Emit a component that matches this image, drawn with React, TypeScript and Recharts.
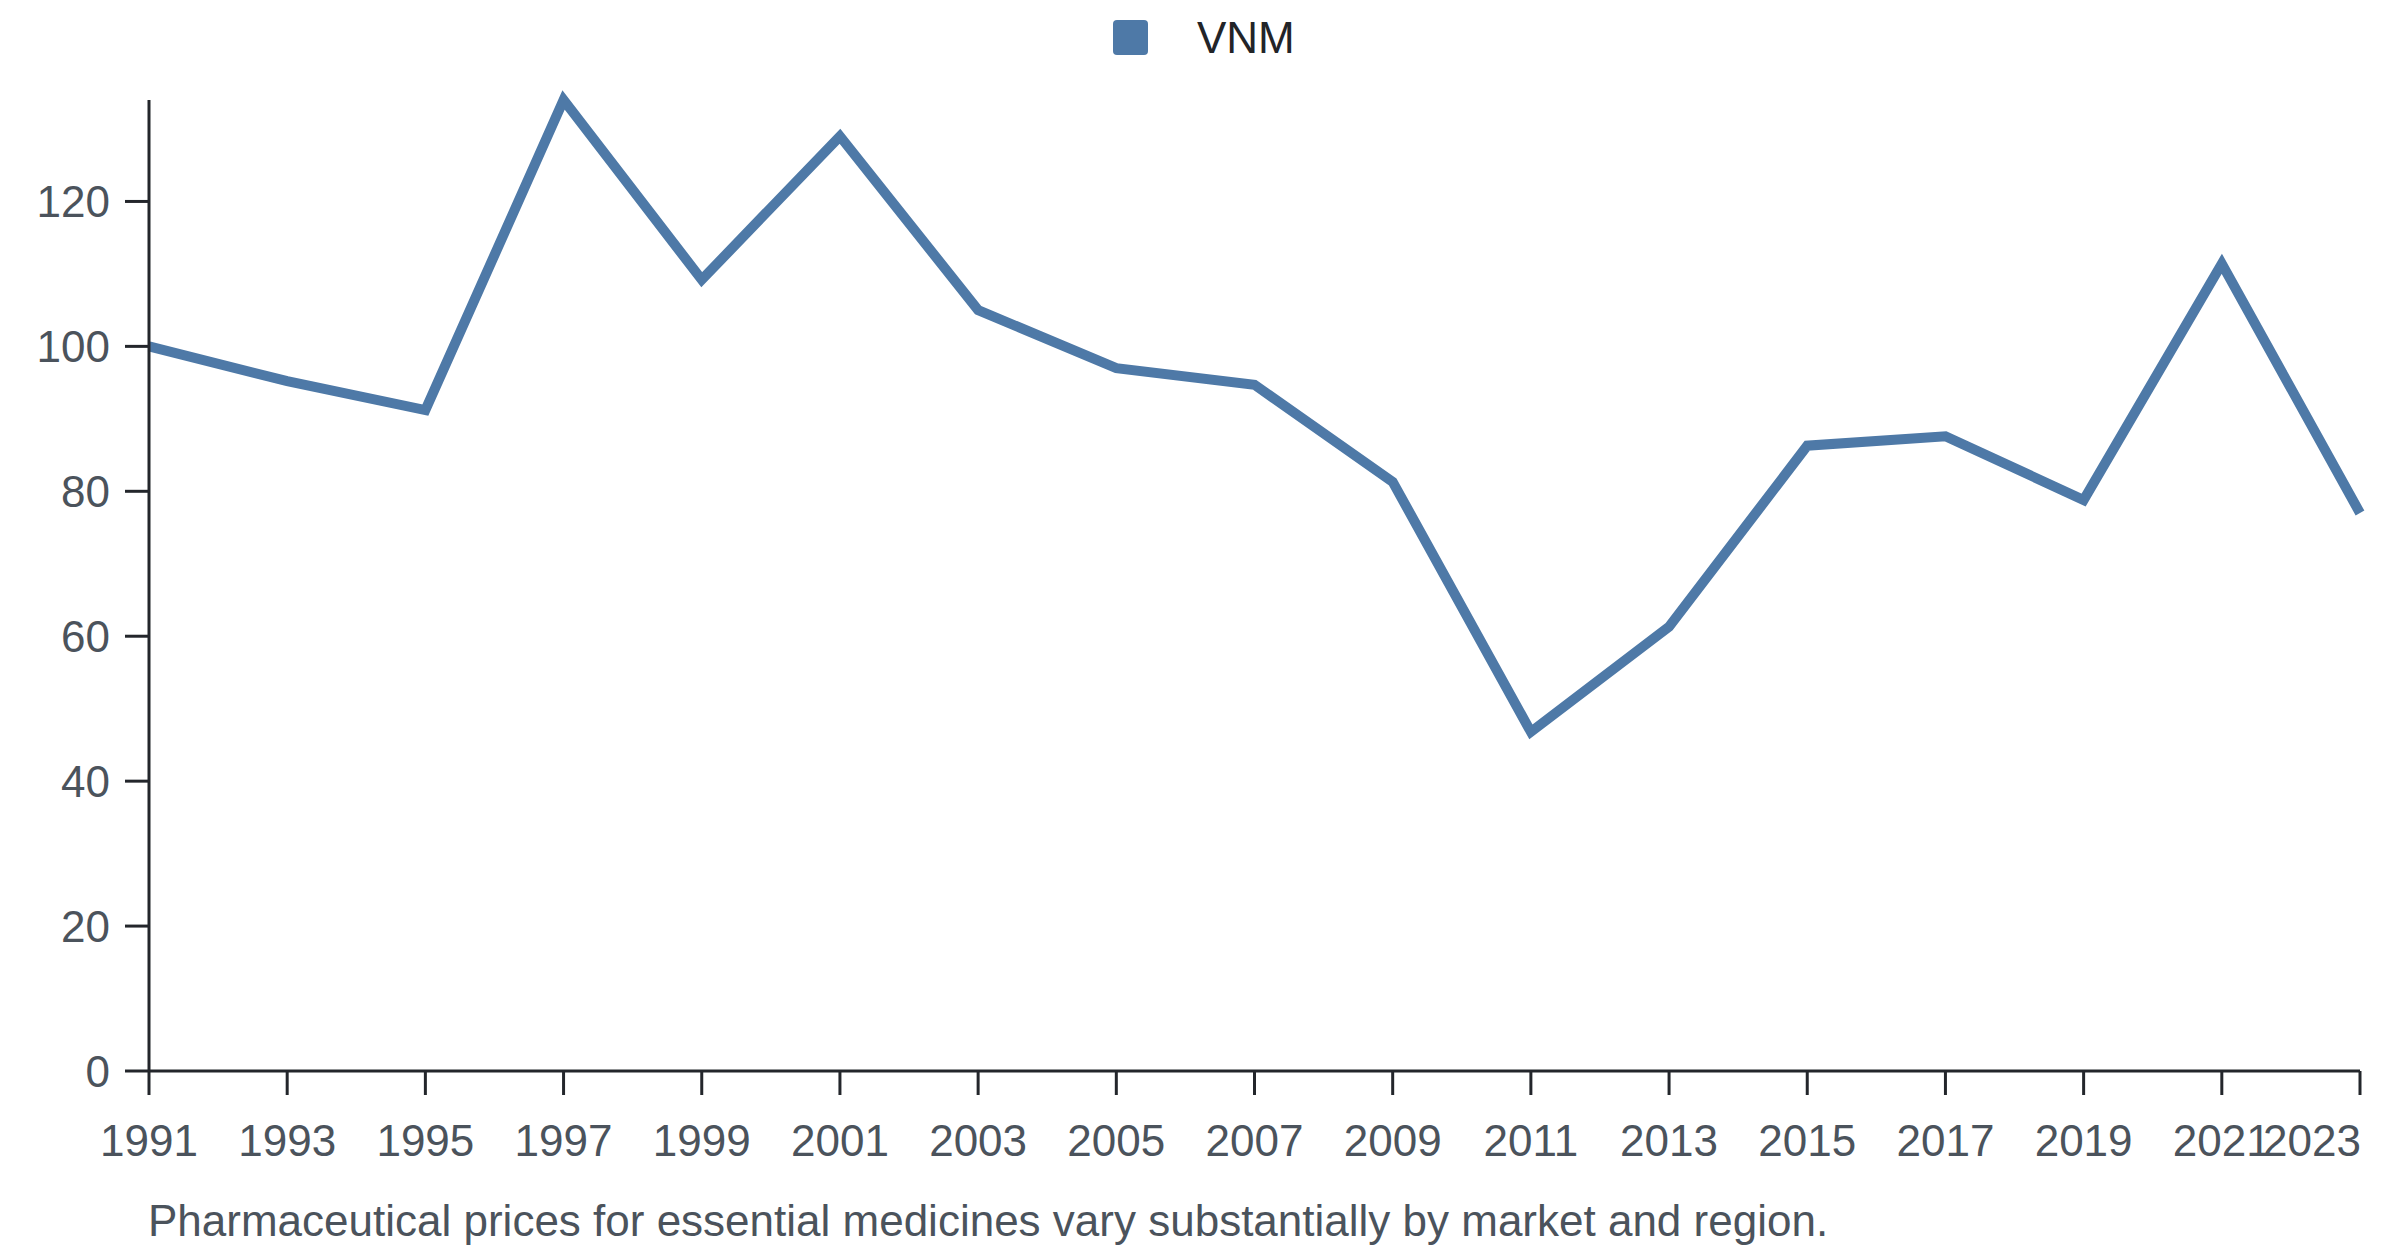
import React from 'react';
import { LineChart, Line, XAxis, YAxis, Legend } from 'recharts';

const years = [1991, 1993, 1995, 1997, 1999, 2001, 2003, 2005, 2007, 2009, 2011, 2013, 2015, 2017, 2019, 2021, 2023];
const vnm = [100.0, 95.2, 91.2, 134.0, 109.2, 129.0, 105.0, 97.0, 94.7, 81.3, 46.8, 61.3, 86.3, 87.6, 78.8, 111.4, 77.0];
const xTicks = [1991, 1993, 1995, 1997, 1999, 2001, 2003, 2005, 2007, 2009, 2011, 2013, 2015, 2017, 2019, 2021, 2023];
const yTicks = [0, 20, 40, 60, 80, 100, 120];
const seriesName = 'VNM';
const caption = 'Pharmaceutical prices for essential medicines vary substantially by market and region.';

const data = years.map((year, i) => ({ year, VNM: vnm[i] }));

const FONT = '"Liberation Sans", Arial, Helvetica, sans-serif';
const LINE_COLOR = '#4e79a7';
const AXIS_COLOR = '#23262b';
const TICK_COLOR = '#4b535c';
const CHART_W = 2400;

const LegendContent = () => (
  <div style={{ position: 'relative', width: 2400, height: 100, fontFamily: FONT }}>
    <div
      style={{
        position: 'absolute',
        left: 1113,
        top: 20,
        width: 35,
        height: 35,
        borderRadius: 4,
        background: LINE_COLOR,
      }}
    />
    <span
      style={{
        position: 'absolute',
        left: 1197,
        top: 16,
        fontSize: 44,
        lineHeight: '44px',
        color: '#222428',
        whiteSpace: 'nowrap',
      }}
    >
      {seriesName}
    </span>
  </div>
);

const XTick = (props: any) => {
  const { x, y, payload } = props;
  const label = String(payload.value);
  const approxHalf = label.length * 0.556 * 44 / 2;
  const overflow = x + approxHalf > CHART_W - 4;
  return (
    <text
      x={overflow ? x + 1 : x}
      y={y}
      dy="0.71em"
      textAnchor={overflow ? 'end' : 'middle'}
      fill={TICK_COLOR}
      fontSize={44}
      fontFamily={FONT}
    >
      {label}
    </text>
  );
};

const CaptionLabel = (props: any) => {
  const vb = props.viewBox || { x: 149, y: 1071 };
  return (
    <text x={vb.x - 1} y={vb.y + 165} fill={TICK_COLOR} fontSize={44} fontFamily={FONT} textAnchor="start">
      {caption}
    </text>
  );
};

export default function App() {
  return (
    <div style={{ width: 2400, height: 1256, background: '#fff' }}>
      <style>{`body{margin:0;background:#fff;}`}</style>
      <LineChart
        width={CHART_W}
        height={1256}
        data={data}
        margin={{ top: 0, right: 40, bottom: 0, left: 0 }}
        style={{ fontFamily: FONT }}
      >
        <Legend
          verticalAlign="top"
          align="left"
          wrapperStyle={{ top: 0, left: 0, width: 2400, height: 100 }}
          content={<LegendContent />}
        />
        <XAxis
          dataKey="year"
          type="number"
          domain={[1991, 2023]}
          ticks={xTicks}
          interval={0}
          height={185}
          tickSize={24}
          tickMargin={30}
          axisLine={{ stroke: AXIS_COLOR, strokeWidth: 3 }}
          tickLine={{ stroke: AXIS_COLOR, strokeWidth: 3 }}
          tick={<XTick />}
          label={CaptionLabel}
        />
        <YAxis
          type="number"
          domain={[0, 'dataMax']}
          ticks={yTicks}
          interval={0}
          width={149}
          tickSize={24}
          tickMargin={15}
          axisLine={{ stroke: AXIS_COLOR, strokeWidth: 3 }}
          tickLine={{ stroke: AXIS_COLOR, strokeWidth: 3 }}
          tick={{ fill: TICK_COLOR, fontSize: 44, fontFamily: FONT }}
        />
        <Line
          type="linear"
          dataKey="VNM"
          name={seriesName}
          stroke={LINE_COLOR}
          strokeWidth={10}
          dot={false}
          activeDot={false}
          isAnimationActive={false}
        />
      </LineChart>
    </div>
  );
}
